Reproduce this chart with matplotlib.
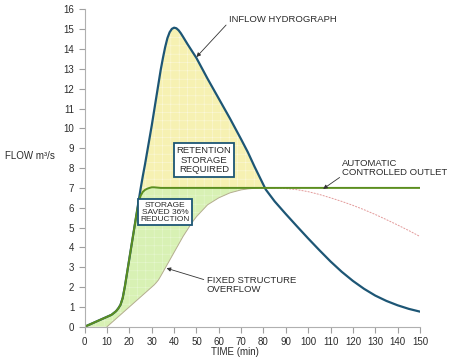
import matplotlib

matplotlib.use("Agg")
import matplotlib.pyplot as plt
import numpy as np

plt.rcParams["font.family"] = ["Liberation Sans", "DejaVu Sans"]
plt.rcParams["hatch.linewidth"] = 0.4

# time (min) shared by all series
time = [0, 5, 10, 12, 14, 15, 16, 17, 18, 19, 20, 22, 23, 24, 25, 26, 27, 28, 29, 30,
        31, 32, 33, 34, 35, 36, 37, 38, 39, 40, 41, 42, 43, 44, 46, 48, 50, 55, 60, 65,
        70, 73, 76, 79, 81, 85, 90, 95, 100, 105, 110, 115, 120, 125, 130, 135, 140,
        145, 150]
inflow = [0, 0.25, 0.5, 0.6, 0.78, 0.92, 1.1, 1.45, 2.05, 2.75, 3.45, 4.85, 5.55, 6.25,
          6.95, 7.6, 8.2, 8.85, 9.5, 10.15, 10.85, 11.55, 12.25, 12.95, 13.55, 14.1, 14.55,
          14.85, 15.02, 15.08, 15.05, 14.95, 14.8, 14.62, 14.25, 13.9, 13.55, 12.5, 11.5,
          10.5, 9.45, 8.8, 8.07, 7.38, 6.92, 6.32, 5.68, 5.06, 4.45, 3.86, 3.29, 2.77,
          2.31, 1.91, 1.57, 1.3, 1.08, 0.9, 0.76]
outlet = [0, 0.25, 0.5, 0.6, 0.78, 0.92, 1.1, 1.45, 2.05, 2.75, 3.45, 4.85, 5.55, 6.2,
          6.6, 6.8, 6.9, 6.96, 7.0, 7.03, 7.03, 7.02, 7.01, 7.0, 7.0, 7.0, 7.0, 7.0, 7.0,
          7.0, 7.0, 7.0, 7.0, 7.0, 7.0, 7.0, 7.0, 7.0, 7.0, 7.0, 7.0, 7.0, 7.0, 7.0, 7.0,
          7.0, 7.0, 7.0, 7.0, 7.0, 7.0, 7.0, 7.0, 7.0, 7.0, 7.0, 7.0, 7.0, 7.0]
overflow = [0, 0, 0, 0.2, 0.4, 0.5, 0.6, 0.7, 0.8, 0.9, 1.0, 1.2, 1.3, 1.4, 1.5, 1.6,
            1.7, 1.8, 1.9, 2.0, 2.1, 2.22, 2.36, 2.55, 2.75, 2.95, 3.15, 3.35, 3.55, 3.75,
            3.95, 4.15, 4.35, 4.55, 4.9, 5.25, 5.55, 6.15, 6.5, 6.75, 6.9, 6.95, 6.98, 7.0,
            7.0, 7.0, 6.97, 6.91, 6.81, 6.67, 6.5, 6.32, 6.12, 5.9, 5.66, 5.4, 5.13, 4.85,
            4.55]

x_ticks = list(range(0, 151, 10))
y_ticks = list(range(0, 17))

t = np.array(time)
q_in = np.array(inflow)
q_out = np.array(outlet)
q_fix = np.array(overflow)

blue = "#1d5675"
green = "#5b8e1f"
text_c = "#2b2b2b"

fig = plt.figure(figsize=(4.53, 3.63), dpi=100)
ax = fig.add_axes([0.187, 0.1, 0.74, 0.874])

ax.fill_between(t, q_in, q_out, where=q_in >= q_out, interpolate=True,
                facecolor="#f6f1b2", edgecolor="#fbf8da", hatch="++", linewidth=0)
low = np.minimum(q_in, q_out)
ax.fill_between(t, low, q_fix, where=low >= q_fix, interpolate=True,
                facecolor="#d8f1b4", edgecolor="#e6f7cf", hatch="++", linewidth=0)

left = t <= 85
right = t >= 79
ax.plot(t[(t >= 10) & left], q_fix[(t >= 10) & left], color="#b4ad8f", lw=0.7)
ax.plot(t[right], q_fix[right], color="#e39a9a", lw=0.7, ls=(0, (2, 1.2)))
ax.plot(t, q_in, color=blue, lw=1.6, solid_capstyle="round", solid_joinstyle="round")
ax.plot(t, q_out, color=green, lw=1.4, solid_capstyle="round", solid_joinstyle="round")

ax.set_xlim(0, 150)
ax.set_ylim(0, 16)
ax.set_xticks(x_ticks)
ax.set_yticks(y_ticks)
for s in ("top", "right"):
    ax.spines[s].set_visible(False)
for s in ("left", "bottom"):
    ax.spines[s].set_color("#b0b0b0")
    ax.spines[s].set_linewidth(0.8)
ax.tick_params(colors="#a0a0a0", labelcolor=text_c, labelsize=7, length=4.5, width=0.8, pad=3)

ax.annotate("INFLOW HYDROGRAPH", xy=(50, 13.6), xytext=(64.5, 15.5), fontsize=6.8,
            color=text_c, va="center", ha="left",
            arrowprops=dict(arrowstyle="-|>", color="#333333", lw=0.6, mutation_scale=6,
                            shrinkA=0, shrinkB=0, relpos=(0, 0.2)))
ax.text(53.3, 8.4, "RETENTION\nSTORAGE\nREQUIRED", fontsize=6.8, color=text_c,
        ha="center", va="center", linespacing=1.05,
        bbox=dict(boxstyle="square,pad=0.3", fc="white", ec=blue, lw=1.3))
ax.annotate("AUTOMATIC\nCONTROLLED OUTLET", xy=(106.7, 6.95), xytext=(115.3, 8.0),
            fontsize=6.8, color=text_c, va="center", ha="left", linespacing=1.1,
            arrowprops=dict(arrowstyle="-|>", color="#333333", lw=0.6, mutation_scale=6,
                            shrinkA=0, shrinkB=0, relpos=(0, 0.1)))
ax.text(36.0, 5.77, "STORAGE\nSAVED 36%\nREDUCTION", fontsize=6, color=text_c,
        ha="center", va="center", linespacing=1.0,
        bbox=dict(boxstyle="square,pad=0.3", fc="white", ec=blue, lw=1.3))
ax.annotate("FIXED STRUCTURE\nOVERFLOW", xy=(36.6, 2.95), xytext=(54.5, 2.1),
            fontsize=6.8, color=text_c, va="center", ha="left", linespacing=1.1,
            arrowprops=dict(arrowstyle="-|>", color="#333333", lw=0.6, mutation_scale=6,
                            shrinkA=0, shrinkB=0, relpos=(0, 0.75)))

fig.text(5 / 453, 1 - 156 / 363, "FLOW m³/s", fontsize=7, color=text_c, va="center", ha="left")
fig.text(235 / 453, 1 - 352 / 363, "TIME (min)", fontsize=7, color=text_c, va="center", ha="center")

fig.savefig("out.png", dpi=100)
